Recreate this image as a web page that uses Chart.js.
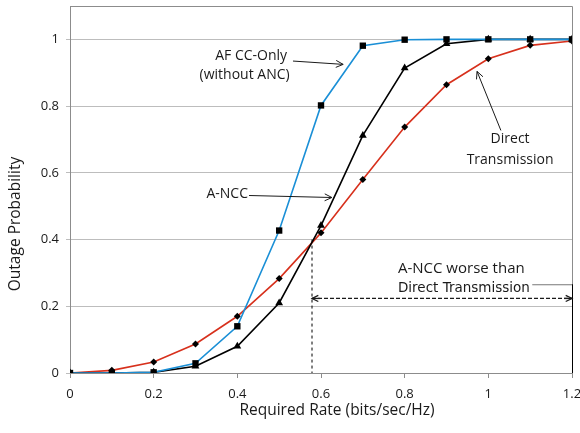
<!DOCTYPE html>
<html>
<head>
<meta charset="utf-8">
<script src="https://cdn.jsdelivr.net/npm/chart.js@4/dist/chart.umd.min.js"></script>
<style>
  html, body { margin: 0; padding: 0; background: #fff; }
  #wrap { width: 580px; height: 433px; }
</style>
</head>
<body>
<div id="wrap"><canvas id="c" width="580" height="433"></canvas></div>
<script>
// valeurs
const rates = [0, 0.1, 0.2, 0.3, 0.4, 0.5, 0.6, 0.7, 0.8, 0.9, 1.0, 1.1, 1.2];
const afCcOnly = [0, 0, 0.002, 0.029, 0.14, 0.427, 0.802, 0.981, 0.999, 1, 1, 1, 1];
const aNcc = [0, 0, 0.002, 0.02, 0.08, 0.21, 0.442, 0.712, 0.914, 0.987, 1, 1, 1];
const direct = [0, 0.008, 0.033, 0.087, 0.17, 0.283, 0.42, 0.58, 0.737, 0.864, 0.942, 0.982, 0.995];
const yTicks = [0, 0.2, 0.4, 0.6, 0.8, 1];
const xTicks = [0, 0.2, 0.4, 0.6, 0.8, 1, 1.2];

const FONT = '"Open Sans", "Noto Sans", sans-serif';

// flèche simple (trait + pointe ouverte)
function arrow(ctx, x1, y1, x2, y2, size) {
    ctx.beginPath();
    ctx.moveTo(x1, y1);
    ctx.lineTo(x2, y2);
    ctx.stroke();
    const a = Math.atan2(y2 - y1, x2 - x1);
    ctx.save();
    ctx.setLineDash([]);
    ctx.beginPath();
    ctx.moveTo(x2 - size * Math.cos(a - 0.45), y2 - size * Math.sin(a - 0.45));
    ctx.lineTo(x2, y2);
    ctx.lineTo(x2 - size * Math.cos(a + 0.45), y2 - size * Math.sin(a + 0.45));
    ctx.stroke();
    ctx.restore();
}

const annotations = {
    id: 'annotations',
    beforeDatasetsDraw(chart) {
        const { ctx, chartArea: ca, scales: { x, y } } = chart;
        ctx.save();
        // cadre gris haut / droite
        ctx.strokeStyle = '#8c8c8c';
        ctx.lineWidth = 1;
        ctx.beginPath();
        ctx.moveTo(ca.left, ca.top + 0.5);
        ctx.lineTo(ca.right + 0.5, ca.top + 0.5);
        ctx.lineTo(ca.right + 0.5, ca.bottom);
        ctx.stroke();

        // pointillé vertical au croisement
        const xc = x.getPixelForValue(0.5785);
        ctx.strokeStyle = '#000';
        ctx.setLineDash([3, 3]);
        ctx.beginPath();
        ctx.moveTo(xc, y.getPixelForValue(0.40));
        ctx.lineTo(xc, y.getPixelForValue(0));
        ctx.stroke();
        ctx.restore();
    },
    afterDraw(chart) {
        const { ctx, chartArea: ca, scales: { x, y } } = chart;
        ctx.save();
        ctx.fillStyle = '#1a1a1a';
        ctx.strokeStyle = '#1a1a1a';
        ctx.lineWidth = 1;

        // titres des axes
        ctx.font = '15.5px ' + FONT;
        ctx.textAlign = 'center';
        ctx.textBaseline = 'middle';
        ctx.fillText('Required Rate (bits/sec/Hz)', 337, 411);
        ctx.save();
        ctx.translate(16, 224);
        ctx.rotate(-Math.PI / 2);
        ctx.fillText('Outage Probability', 0, 0);
        ctx.restore();

        // AF CC-Only
        ctx.font = '14px ' + FONT;
        ctx.textAlign = 'right';
        ctx.fillText('AF CC-Only', x.getPixelForValue(0.519), y.getPixelForValue(0.949));
        ctx.fillText('(without ANC)', x.getPixelForValue(0.525), y.getPixelForValue(0.892));
        arrow(ctx, x.getPixelForValue(0.533), y.getPixelForValue(0.935),
                   x.getPixelForValue(0.653), y.getPixelForValue(0.925), 8);

        // A-NCC
        ctx.fillText('A-NCC', x.getPixelForValue(0.4255), y.getPixelForValue(0.535));
        arrow(ctx, x.getPixelForValue(0.428), y.getPixelForValue(0.532),
                   x.getPixelForValue(0.626), y.getPixelForValue(0.526), 8);

        // Direct Transmission
        ctx.textAlign = 'center';
        ctx.fillText('Direct', x.getPixelForValue(1.052), y.getPixelForValue(0.70));
        ctx.fillText('Transmission', x.getPixelForValue(1.052), y.getPixelForValue(0.637));
        arrow(ctx, x.getPixelForValue(1.030), y.getPixelForValue(0.727),
                   x.getPixelForValue(0.973), y.getPixelForValue(0.904), 8);

        // zone "A-NCC worse than Direct Transmission"
        ctx.textAlign = 'left';
        ctx.font = '15px ' + FONT;
        ctx.fillText('A-NCC worse than', x.getPixelForValue(0.784), y.getPixelForValue(0.313));
        ctx.font = '13.5px "DejaVu Sans", sans-serif';
        ctx.fillText('Direct Transmission', x.getPixelForValue(0.784), y.getPixelForValue(0.253));

        // reste du cadre de la zone de texte
        ctx.strokeStyle = '#777';
        ctx.beginPath();
        ctx.moveTo(x.getPixelForValue(1.105), y.getPixelForValue(0.266) + 0.5);
        ctx.lineTo(ca.right, y.getPixelForValue(0.266) + 0.5);
        ctx.stroke();
        ctx.strokeStyle = '#000';
        ctx.beginPath();
        ctx.moveTo(ca.right + 0.5, y.getPixelForValue(0.266));
        ctx.lineTo(ca.right + 0.5, ca.bottom);
        ctx.stroke();

        const yy = y.getPixelForValue(0.2234);
        const xa = x.getPixelForValue(0.5785), xb = x.getPixelForValue(1.2);
        ctx.strokeStyle = '#1a1a1a';
        ctx.lineWidth = 1.3;
        ctx.setLineDash([4, 2]);
        ctx.beginPath();
        ctx.moveTo(xa, yy);
        ctx.lineTo(xb, yy);
        ctx.stroke();
        ctx.setLineDash([]);
        arrow(ctx, xa + 8, yy, xa, yy, 7);
        arrow(ctx, xb - 8, yy, xb, yy, 7);
        ctx.restore();
    }
};

const common = {
    borderWidth: 1.6,
    pointBackgroundColor: '#000',
    pointBorderColor: '#000',
    pointBorderWidth: 0,
    tension: 0
};

new Chart(document.getElementById('c'), {
    type: 'line',
    data: {
        labels: rates,
        datasets: [
            { ...common, label: 'AF CC-Only (without ANC)', data: afCcOnly,
              borderColor: '#1a8fd6', pointStyle: 'rect', pointRadius: 4.5 },
            { ...common, label: 'A-NCC', data: aNcc,
              borderColor: '#000000', pointStyle: 'triangle', pointRadius: 4.5 },
            { ...common, label: 'Direct Transmission', data: direct,
              borderColor: '#d7301c', pointStyle: 'rectRot', pointRadius: 3.5 }
        ]
    },
    options: {
        animation: false,
        responsive: false,
        layout: { padding: { top: 6, right: 8, left: 0, bottom: 0 } },
        plugins: { legend: { display: false }, tooltip: { enabled: false } },
        scales: {
            x: {
                type: 'linear', min: 0, max: 1.2,
                afterBuildTicks: s => { s.ticks = xTicks.map(v => ({ value: v })); },
                afterFit: s => { s.height = 60; s.paddingLeft = 0; s.paddingRight = 0; },
                grid: { drawOnChartArea: false, drawTicks: true, tickLength: 5, color: '#8c8c8c' },
                border: { color: '#8c8c8c' },
                ticks: {
                    color: '#1a1a1a', padding: 8,
                    font: { family: FONT, size: 13 },
                    callback: v => String(+v.toFixed(1))
                }
            },
            y: {
                min: 0, max: 1.1,
                afterBuildTicks: s => { s.ticks = yTicks.map(v => ({ value: v })); },
                afterFit: s => { s.width = 70; s.paddingTop = 0; s.paddingBottom = 0; },
                grid: { color: '#bdbdbd', tickLength: 4 },
                border: { color: '#8c8c8c' },
                ticks: {
                    color: '#1a1a1a', padding: 7,
                    font: { family: FONT, size: 13 },
                    callback: v => String(+v.toFixed(1))
                }
            }
        }
    },
    plugins: [annotations]
});
</script>
</body>
</html>
